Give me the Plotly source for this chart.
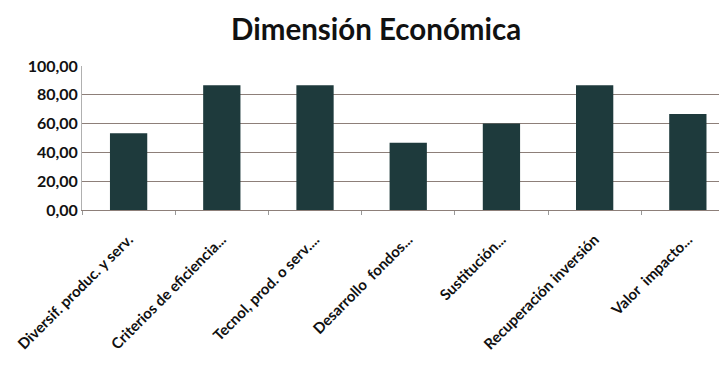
import plotly.graph_objects as go

categories = ["Diversif. produc. y serv.", "Criterios de eficiencia...", "Tecnol, prod. o serv....",
              "Desarrollo  fondos...", "Sustitución...", "Recuperación inversión", "Valor  impacto..."]
values = [53.33, 86.67, 86.67, 46.67, 60.0, 86.67, 66.67]
y_ticks = [0, 20, 40, 60, 80, 100]

fig = go.Figure(go.Bar(x=categories, y=values, marker=dict(color="#1e3a3c", line=dict(width=0)),
                       width=0.4))

fig.update_layout(
    width=719, height=359,
    margin=dict(l=74, r=0, t=58, b=157, autoexpand=False),
    paper_bgcolor="white", plot_bgcolor="white",
    separators=", ",
    showlegend=False,
    title=dict(text="<b>Dimensión Económica</b>", x=0.512, xanchor="center", y=0.94, yanchor="middle",
               font=dict(family="Lato", size=29.5, color="#111111")),
    font=dict(family="Lato", color="#111111"),
)
fig.update_yaxes(range=[0, 100], tickvals=y_ticks, tickformat=".2f", automargin=False,
                 showgrid=True, gridcolor="#8d7f79", gridwidth=1,
                 showline=True, linecolor="#b0b0b0", linewidth=1,
                 ticks="", tickfont=dict(family="Lato", size=16, weight="bold", color="#111111"),
                 zeroline=False)
fig.update_xaxes(range=[-0.5, 6.42], tickangle=-45, automargin=False, ticklabelstandoff=14,
                 showline=True, linecolor="#8d7f79", linewidth=1,
                 ticks="outside", ticklen=4, tickcolor="#999999", tickson="boundaries",
                 tickfont=dict(family="Lato", size=15, weight="bold", color="#111111"))

fig.write_html("out.html")
